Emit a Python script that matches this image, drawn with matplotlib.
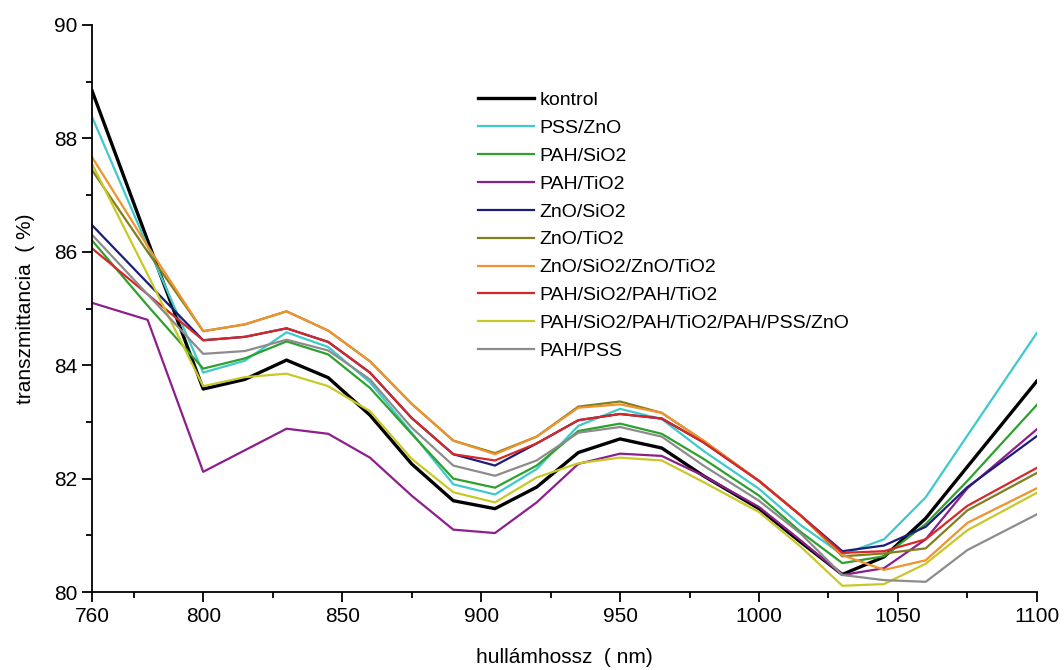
import numpy as np
import matplotlib
matplotlib.use("Agg")
import matplotlib.pyplot as plt
from matplotlib.ticker import MultipleLocator, FixedLocator

plt.rcParams['font.family'] = ['Liberation Sans', 'DejaVu Sans']

hullamhossz = [760, 780, 800, 815, 830, 845, 860, 875, 890, 905, 920,
               935, 950, 965, 980, 1000, 1015, 1030, 1045, 1060, 1075, 1100]

kontrol = [88.84, 86.2, 83.58, 83.75, 84.09, 83.78, 83.12, 82.26, 81.61, 81.47, 81.85,
           82.46, 82.70, 82.54, 82.05, 81.47, 80.88, 80.31, 80.62, 81.30, 82.21, 83.72]
pss_zno = [88.38, 86.1, 83.87, 84.08, 84.58, 84.32, 83.70, 82.81, 81.90, 81.72, 82.17,
           82.93, 83.23, 83.05, 82.49, 81.82, 81.18, 80.66, 80.93, 81.67, 82.76, 84.57]
pah_sio2 = [86.20, 85.05, 83.94, 84.12, 84.42, 84.19, 83.60, 82.79, 82.00, 81.84, 82.23,
            82.84, 82.97, 82.79, 82.35, 81.70, 81.06, 80.51, 80.63, 81.20, 81.96, 83.30]
pah_tio2 = [85.10, 84.80, 82.12, 82.50, 82.88, 82.79, 82.37, 81.70, 81.10, 81.04, 81.58,
            82.26, 82.44, 82.40, 82.05, 81.50, 80.91, 80.30, 80.42, 80.93, 81.83, 82.87]
zno_sio2 = [86.47, 85.45, 84.44, 84.50, 84.65, 84.41, 83.87, 83.07, 82.43, 82.23, 82.62,
            83.03, 83.14, 83.06, 82.64, 81.96, 81.35, 80.72, 80.82, 81.15, 81.85, 82.75]
zno_tio2 = [87.44, 86.0, 84.60, 84.72, 84.95, 84.61, 84.07, 83.32, 82.67, 82.45, 82.74,
            83.27, 83.36, 83.16, 82.67, 81.96, 81.35, 80.63, 80.68, 80.77, 81.44, 82.10]
zno_sio2_zno_tio2 = [87.67, 86.1, 84.60, 84.72, 84.95, 84.61, 84.07, 83.32, 82.67, 82.43, 82.74,
                     83.25, 83.31, 83.16, 82.67, 81.96, 81.35, 80.65, 80.39, 80.56, 81.22, 81.83]
pah_sio2_pah_tio2 = [86.06, 85.25, 84.44, 84.50, 84.65, 84.41, 83.87, 83.07, 82.43, 82.32, 82.62,
                     83.03, 83.14, 83.06, 82.64, 81.96, 81.35, 80.69, 80.72, 80.93, 81.52, 82.19]
hetreteg = [87.55, 85.6, 83.63, 83.79, 83.85, 83.63, 83.19, 82.35, 81.76, 81.58, 82.02,
            82.27, 82.37, 82.32, 81.94, 81.41, 80.80, 80.11, 80.14, 80.50, 81.09, 81.75]
pah_pss = [86.30, 85.25, 84.20, 84.25, 84.45, 84.26, 83.75, 82.90, 82.23, 82.05, 82.32,
           82.81, 82.91, 82.74, 82.23, 81.61, 81.03, 80.30, 80.21, 80.18, 80.74, 81.37]

sorozatok = [
    ("kontrol", kontrol, "#000000", 2.4),
    ("PSS/ZnO", pss_zno, "#3ec9cc", 1.6),
    ("PAH/SiO2", pah_sio2, "#2ea02e", 1.6),
    ("PAH/TiO2", pah_tio2, "#8c1f8c", 1.6),
    ("ZnO/SiO2", zno_sio2, "#1c1c7a", 1.6),
    ("ZnO/TiO2", zno_tio2, "#7f7f1e", 1.6),
    ("ZnO/SiO2/ZnO/TiO2", zno_sio2_zno_tio2, "#f0922e", 1.6),
    ("PAH/SiO2/PAH/TiO2", pah_sio2_pah_tio2, "#d62828", 1.6),
    ("PAH/SiO2/PAH/TiO2/PAH/PSS/ZnO", hetreteg, "#c8c828", 1.6),
    ("PAH/PSS", pah_pss, "#8c8c8c", 1.6),
]

fig = plt.figure(figsize=(10.64, 6.7), dpi=100)
ax = fig.add_axes([0.0865, 0.1164, 0.888, 0.8463])

for nev, ertekek, szin, vastag in sorozatok:
    ax.plot(hullamhossz, ertekek, color=szin, lw=vastag, label=nev)

ax.set_xlim(760, 1100)
ax.set_ylim(80, 90)
ax.xaxis.set_major_locator(FixedLocator([760, 800, 850, 900, 950, 1000, 1050, 1100]))
ax.xaxis.set_minor_locator(FixedLocator([775, 825, 875, 925, 975, 1025, 1075]))
ax.yaxis.set_major_locator(MultipleLocator(2))
ax.yaxis.set_minor_locator(MultipleLocator(1))
ax.tick_params(which='major', direction='out', length=7, width=1.3, labelsize=15)
ax.tick_params(which='minor', direction='out', length=4, width=1.3)
for s in ['top', 'right']:
    ax.spines[s].set_visible(False)
for s in ['left', 'bottom']:
    ax.spines[s].set_linewidth(1.3)

ax.set_xlabel('hullámhossz  ( nm)', fontsize=15, labelpad=16)
ax.set_ylabel('transzmittancia  ( %)', fontsize=15, labelpad=14)

ax.legend(loc='upper left', bbox_to_anchor=(0.39, 0.914), frameon=False,
          fontsize=14, handlelength=2.9, handletextpad=0.25, labelspacing=0.53)

fig.savefig('out.png', dpi=100)
